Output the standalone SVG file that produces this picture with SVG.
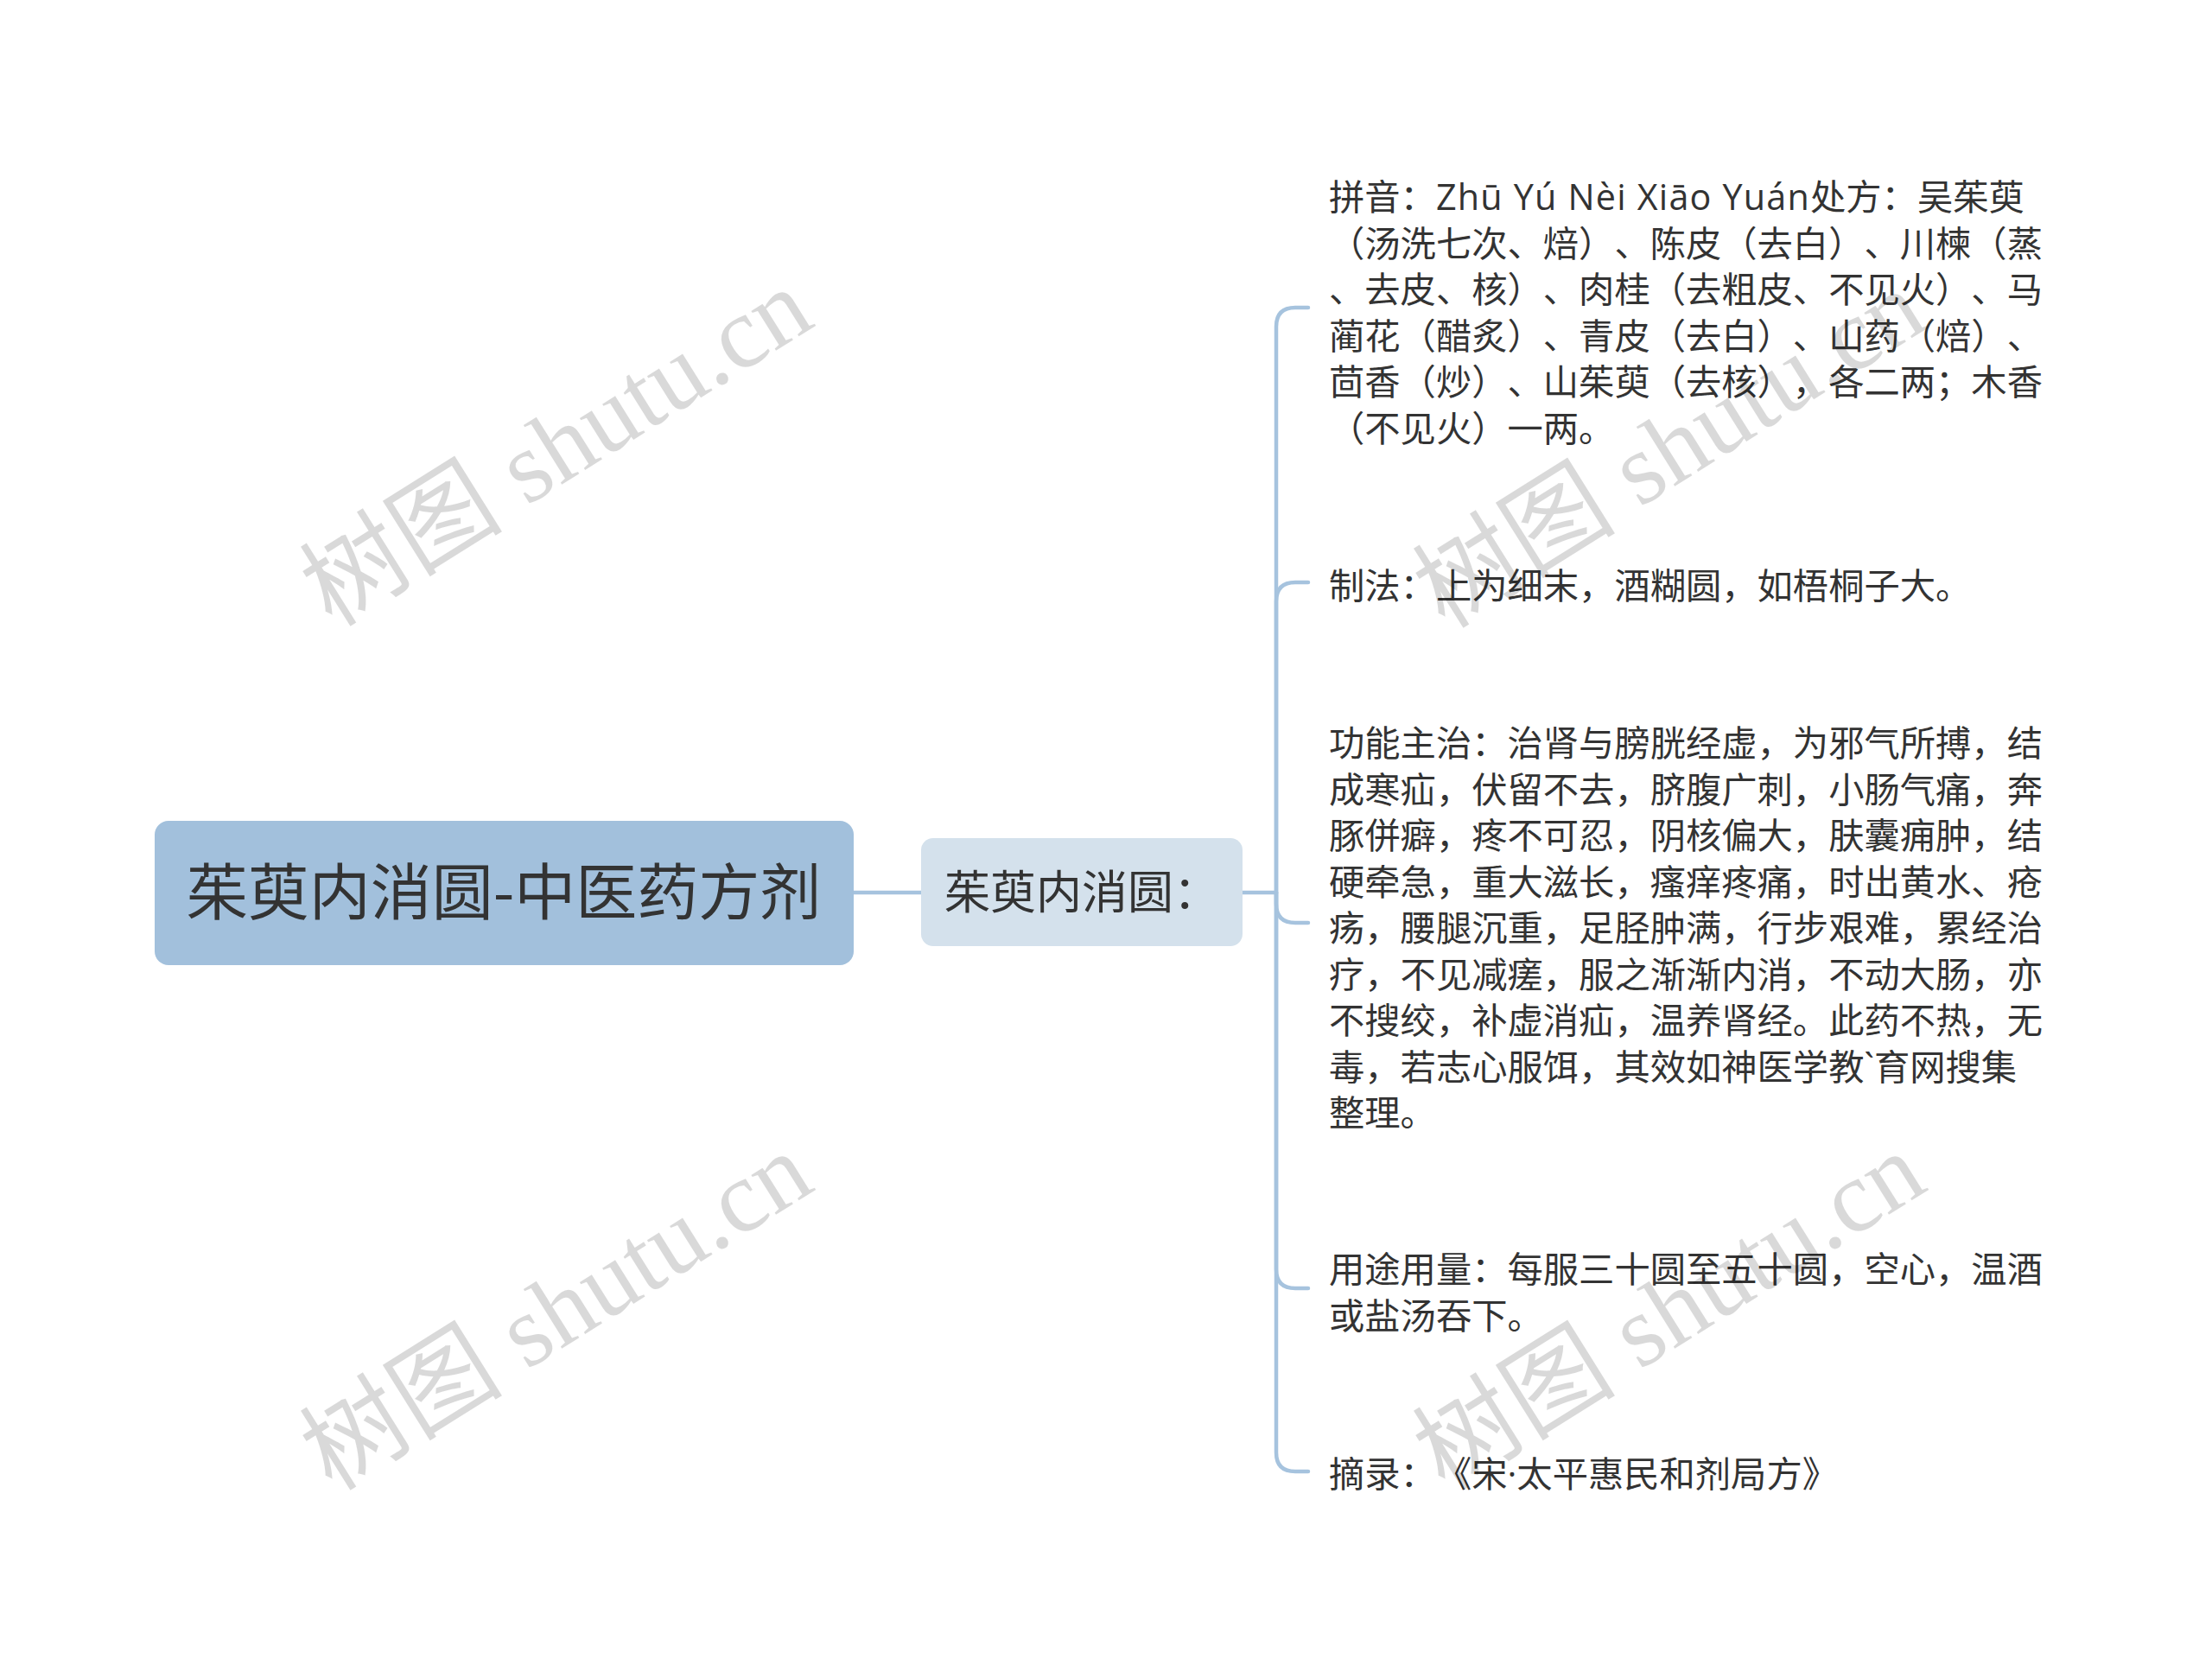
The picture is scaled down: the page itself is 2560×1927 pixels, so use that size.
<svg xmlns="http://www.w3.org/2000/svg" width="2560" height="1927" viewBox="0 0 2560 1927">
<style>
.t{font-family:"Noto Sans CJK SC","Noto Sans",sans-serif;fill:#333333;text-spacing-trim:space-all}
.c{font-family:"Open Sans","Noto Sans CJK SC",sans-serif;font-size:41.3px}
.ln{fill:none;stroke:#a6c3de;stroke-width:4.5;stroke-linecap:round}
.wm{font-family:"Liberation Serif","Noto Sans CJK SC",serif;font-size:118px;fill:#000000;fill-opacity:0.15}
</style>
<rect width="2560" height="1927" fill="#ffffff"/>
<g id="connectors">
<path class="ln" d="M 988 1033 L 1066 1033"/>
<path class="ln" d="M 1438 1033 L 1477 1033"/>
<path class="ln" d="M 1477 1033 L 1477 378 Q 1477 356 1499 356 L 1514 356"/>
<path class="ln" d="M 1477 1033 L 1477 696 Q 1477 674 1499 674 L 1514 674"/>
<path class="ln" d="M 1477 1033 L 1477 1046 Q 1477 1068 1499 1068 L 1514 1068"/>
<path class="ln" d="M 1477 1033 L 1477 1469 Q 1477 1491 1499 1491 L 1514 1491"/>
<path class="ln" d="M 1477 1033 L 1477 1681 Q 1477 1703 1499 1703 L 1514 1703"/>
</g>
<g id="root">
<rect x="179" y="950" width="809" height="167" rx="16" fill="#a2c0dc"/>
<text class="t" x="583" y="1058" font-size="71" text-anchor="middle">茱萸内消圆-中医药方剂</text>
</g>
<g id="sub">
<rect x="1066" y="970" width="372" height="125" rx="14" fill="#d4e1ec"/>
<text class="t" x="1093" y="1052" font-size="53">茱萸内消圆：</text>
</g>
<g id="child1">
<text class="t c" x="1538" y="243">
<tspan x="1538" y="243">拼音：<tspan letter-spacing="1.2">Zhū Yú Nèi Xiāo Yuán</tspan>处方：吴茱萸</tspan>
<tspan x="1538" y="296.6">（汤洗七次、焙）、陈皮（去白）、川楝（蒸</tspan>
<tspan x="1538" y="350.2">、去皮、核）、肉桂（去粗皮、不见火）、马</tspan>
<tspan x="1538" y="403.8">蔺花（醋炙）、青皮（去白）、山药（焙）、</tspan>
<tspan x="1538" y="457.4">茴香（炒）、山茱萸（去核），各二两；木香</tspan>
<tspan x="1538" y="511">（不见火）一两。</tspan>
</text>
</g>
<g id="child2">
<text class="t c" x="1538" y="693">制法：上为细末，酒糊圆，如梧桐子大。</text>
</g>
<g id="child3">
<text class="t c" x="1538" y="875">
<tspan x="1538" y="875">功能主治：治肾与膀胱经虚，为邪气所搏，结</tspan>
<tspan x="1538" y="928.5">成寒疝，伏留不去，脐腹广刺，小肠气痛，奔</tspan>
<tspan x="1538" y="982">豚併癖，疼不可忍，阴核偏大，肤囊痈肿，结</tspan>
<tspan x="1538" y="1035.5">硬牵急，重大滋长，瘙痒疼痛，时出黄水、疮</tspan>
<tspan x="1538" y="1089">疡，腰腿沉重，足胫肿满，行步艰难，累经治</tspan>
<tspan x="1538" y="1142.5">疗，不见减瘥，服之渐渐内消，不动大肠，亦</tspan>
<tspan x="1538" y="1196">不搜绞，补虚消疝，温养肾经。此药不热，无</tspan>
<tspan x="1538" y="1249.5">毒，若志心服饵，其效如神医学教`育网搜集</tspan>
<tspan x="1538" y="1303">整理。</tspan>
</text>
</g>
<g id="child4">
<text class="t c" x="1538" y="1484">
<tspan x="1538" y="1484">用途用量：每服三十圆至五十圆，空心，温酒</tspan>
<tspan x="1538" y="1537.5">或盐汤吞下。</tspan>
</text>
</g>
<g id="child5">
<text class="t c" x="1538" y="1721">摘录：《宋·太平惠民和剂局方》</text>
</g>
<g id="watermarks">
<text class="wm" text-anchor="middle" dominant-baseline="central" transform="translate(644 518) rotate(-32)">树图 shutu.cn</text>
<text class="wm" text-anchor="middle" dominant-baseline="central" transform="translate(1932 520) rotate(-32)">树图 shutu.cn</text>
<text class="wm" text-anchor="middle" dominant-baseline="central" transform="translate(644 1518) rotate(-32)">树图 shutu.cn</text>
<text class="wm" text-anchor="middle" dominant-baseline="central" transform="translate(1932 1518) rotate(-32)">树图 shutu.cn</text>
</g>
</svg>
